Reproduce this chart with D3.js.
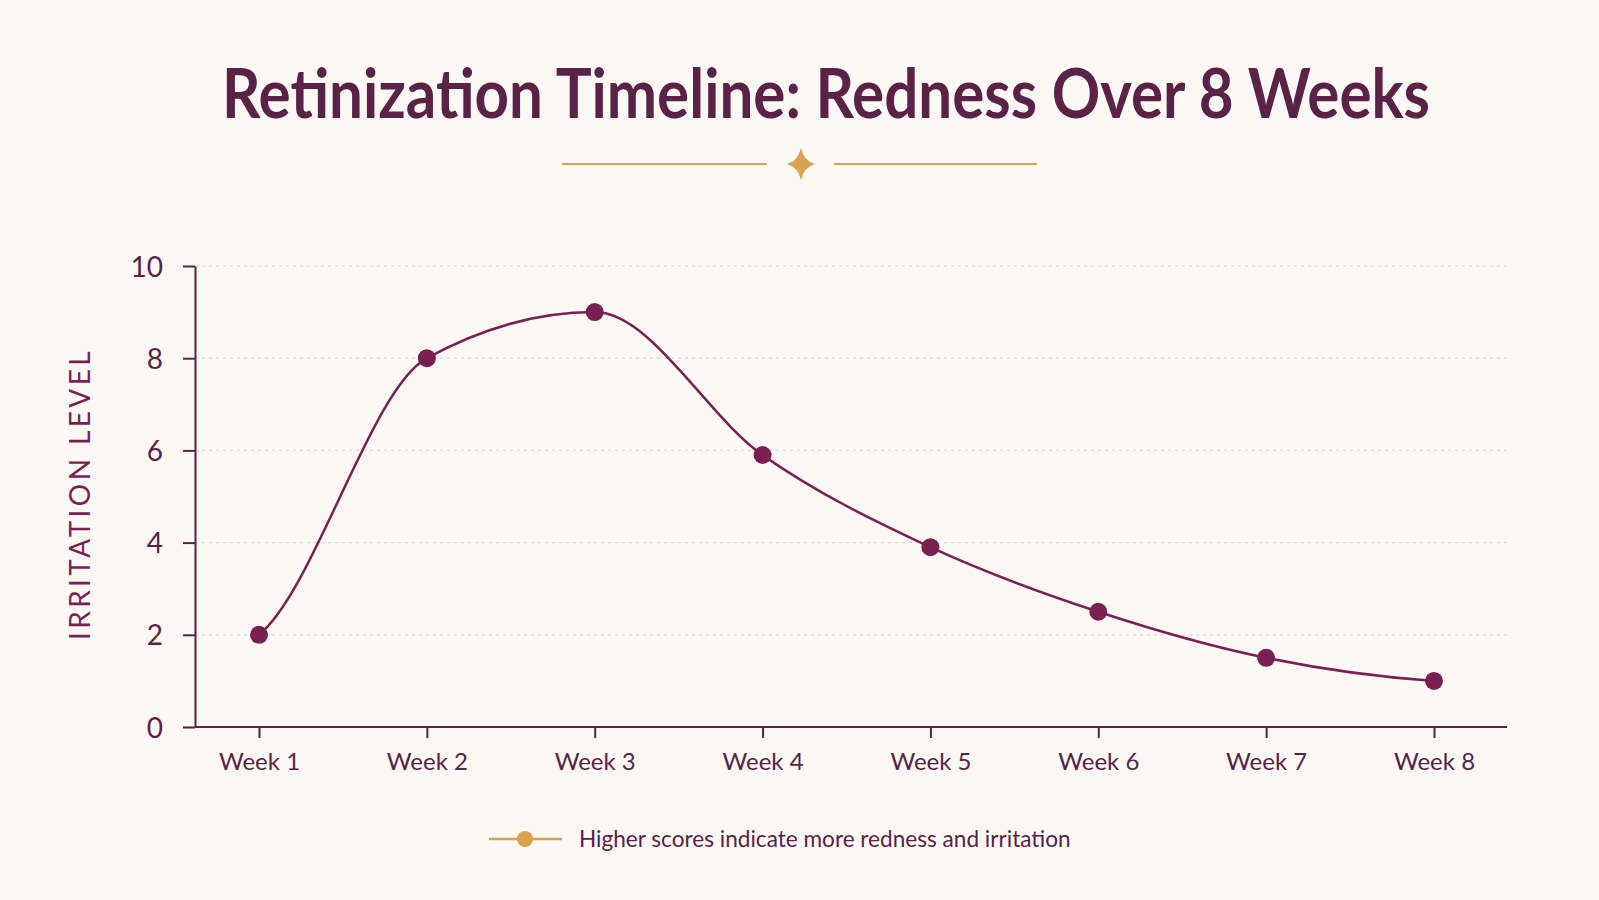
<!DOCTYPE html>
<html>
<head>
<meta charset="utf-8">
<script src="https://cdn.jsdelivr.net/npm/d3@7"></script>
<style>
  body { margin: 0; background: #fcf9f4; }
  svg { display: block; }
</style>
</head>
<body>
<script>
// chart data
const weeks = ["Week 1", "Week 2", "Week 3", "Week 4", "Week 5", "Week 6", "Week 7", "Week 8"];
const redness = [2, 8, 9, 5.9, 3.9, 2.5, 1.5, 1.0];
const yTicks = [0, 2, 4, 6, 8, 10];

const width = 1599,
  height = 900,
  plum = "#5b2247",
  wine = "#7a1f52",
  gold = "#d9a24e";

// plot area
const plotLeft = 195, plotRight = 1507, plotTop = 266, plotBottom = 727;

// monotone-style curve, but with softer tangents at both ends
function curveSoftMonotone(context) {
  let xs, ys;
  return {
    areaStart() {},
    areaEnd() {},
    lineStart() { xs = []; ys = []; },
    point(x, y) { xs.push(+x); ys.push(+y); },
    lineEnd() {
      const n = xs.length;
      if (!n) return;
      context.moveTo(xs[0], ys[0]);
      if (n === 1) return;
      const h = d3.range(n - 1).map(i => xs[i + 1] - xs[i]);
      const s = d3.range(n - 1).map(i => (ys[i + 1] - ys[i]) / h[i]);
      const t = xs.map((_, i) => {
        if (i === 0) return s[0] / 2;
        if (i === n - 1) return s[n - 2] / 2;
        const s0 = s[i - 1], s1 = s[i];
        const p = (s0 * h[i] + s1 * h[i - 1]) / (h[i - 1] + h[i]);
        return (Math.sign(s0) + Math.sign(s1)) * Math.min(Math.abs(s0), Math.abs(s1), 0.5 * Math.abs(p)) || 0;
      });
      for (let i = 0; i < n - 1; i++) {
        const dx = h[i] / 3;
        context.bezierCurveTo(
          xs[i] + dx, ys[i] + dx * t[i],
          xs[i + 1] - dx, ys[i + 1] - dx * t[i + 1],
          xs[i + 1], ys[i + 1]);
      }
    }
  };
}

const svg = d3.select("body")
  .append("svg")
  .attr("width", width)
  .attr("height", height)
  .style("background", "#fcf9f4");

// title
svg.append("text")
  .attr("x", 826)
  .attr("y", 118)
  .attr("text-anchor", "middle")
  .attr("textLength", 1208)
  .attr("lengthAdjust", "spacingAndGlyphs")
  .style("font-family", "Lato, 'Noto Sans', sans-serif")
  .style("font-weight", 700)
  .style("font-size", "68px")
  .style("fill", plum)
  .text("Retinization Timeline: Redness Over 8 Weeks");

// little ornament under the title
const orn = svg.append("g").attr("transform", "translate(801,164)");
orn.append("line").attr("x1", -239).attr("x2", -34).attr("stroke", gold).attr("stroke-width", 2);
orn.append("line").attr("x1", 33).attr("x2", 236).attr("stroke", gold).attr("stroke-width", 2);
orn.append("path")
  .attr("d", "M0,-16 Q3,-3 14,0 Q3,3 0,16 Q-3,3 -14,0 Q-3,-3 0,-16Z")
  .attr("fill", gold);

// scales
const xScale = d3.scalePoint()
  .domain(weeks)
  .range([259, 1434]);

const yScale = d3.scaleLinear()
  .domain([0, 10])
  .range([plotBottom, plotTop]);

// dotted gridlines
svg.append("g")
  .selectAll("line")
  .data(yTicks.filter(d => d > 0))
  .enter()
  .append("line")
  .attr("x1", plotLeft)
  .attr("x2", plotRight)
  .attr("y1", d => yScale(d))
  .attr("y2", d => yScale(d))
  .attr("stroke", "#dcd6d2")
  .attr("stroke-width", 1.2)
  .attr("stroke-dasharray", "3,4");

// y axis
const yAxis = svg.append("g")
  .attr("transform", `translate(${plotLeft},0)`)
  .call(d3.axisLeft(yScale).tickValues(yTicks).tickSize(12).tickPadding(20).tickSizeOuter(0));
yAxis.select(".domain").attr("stroke", plum).attr("stroke-width", 2);
yAxis.selectAll(".tick line").attr("stroke", plum).attr("stroke-width", 2);
yAxis.selectAll(".tick text")
  .style("font-family", "Lato, 'Noto Sans', sans-serif")
  .style("font-size", "28px")
  .style("fill", plum)
  .attr("dy", "0.36em");

// x axis
const xAxis = svg.append("g")
  .attr("transform", `translate(0,${plotBottom})`)
  .call(d3.axisBottom(xScale).tickSize(11).tickPadding(15).tickSizeOuter(0));
xAxis.select(".domain")
  .attr("d", `M${plotLeft},0H${plotRight}`)
  .attr("stroke", plum)
  .attr("stroke-width", 2);
xAxis.selectAll(".tick line").attr("stroke", plum).attr("stroke-width", 2);
xAxis.selectAll(".tick text")
  .style("font-family", "Lato, 'Noto Sans', sans-serif")
  .style("font-size", "24px")
  .style("fill", plum);

// y axis title
svg.append("text")
  .attr("transform", "translate(90,494) rotate(-90)")
  .attr("text-anchor", "middle")
  .style("font-family", "Lato, 'Noto Sans', sans-serif")
  .style("font-size", "28px")
  .style("letter-spacing", "3.4px")
  .style("fill", wine)
  .text("IRRITATION LEVEL");

// the line
const line = d3.line()
  .x((d, i) => xScale(weeks[i]))
  .y(d => yScale(d))
  .curve(curveSoftMonotone);

svg.append("path")
  .datum(redness)
  .attr("d", line)
  .attr("fill", "none")
  .attr("stroke", wine)
  .attr("stroke-width", 2.5);

// dots
svg.append("g")
  .selectAll("circle")
  .data(redness)
  .enter()
  .append("circle")
  .attr("cx", (d, i) => xScale(weeks[i]))
  .attr("cy", d => yScale(d))
  .attr("r", 9)
  .attr("fill", wine);

// legend
const legend = svg.append("g").attr("transform", "translate(489,839)");
legend.append("line").attr("x1", 0).attr("x2", 73).attr("stroke", gold).attr("stroke-width", 2.5);
legend.append("circle").attr("cx", 36).attr("r", 8).attr("fill", gold);
legend.append("text")
  .attr("x", 90)
  .attr("y", 8)
  .style("font-family", "Lato, 'Noto Sans', sans-serif")
  .style("font-size", "22.6px")
  .style("fill", plum)
  .text("Higher scores indicate more redness and irritation");
</script>
</body>
</html>
